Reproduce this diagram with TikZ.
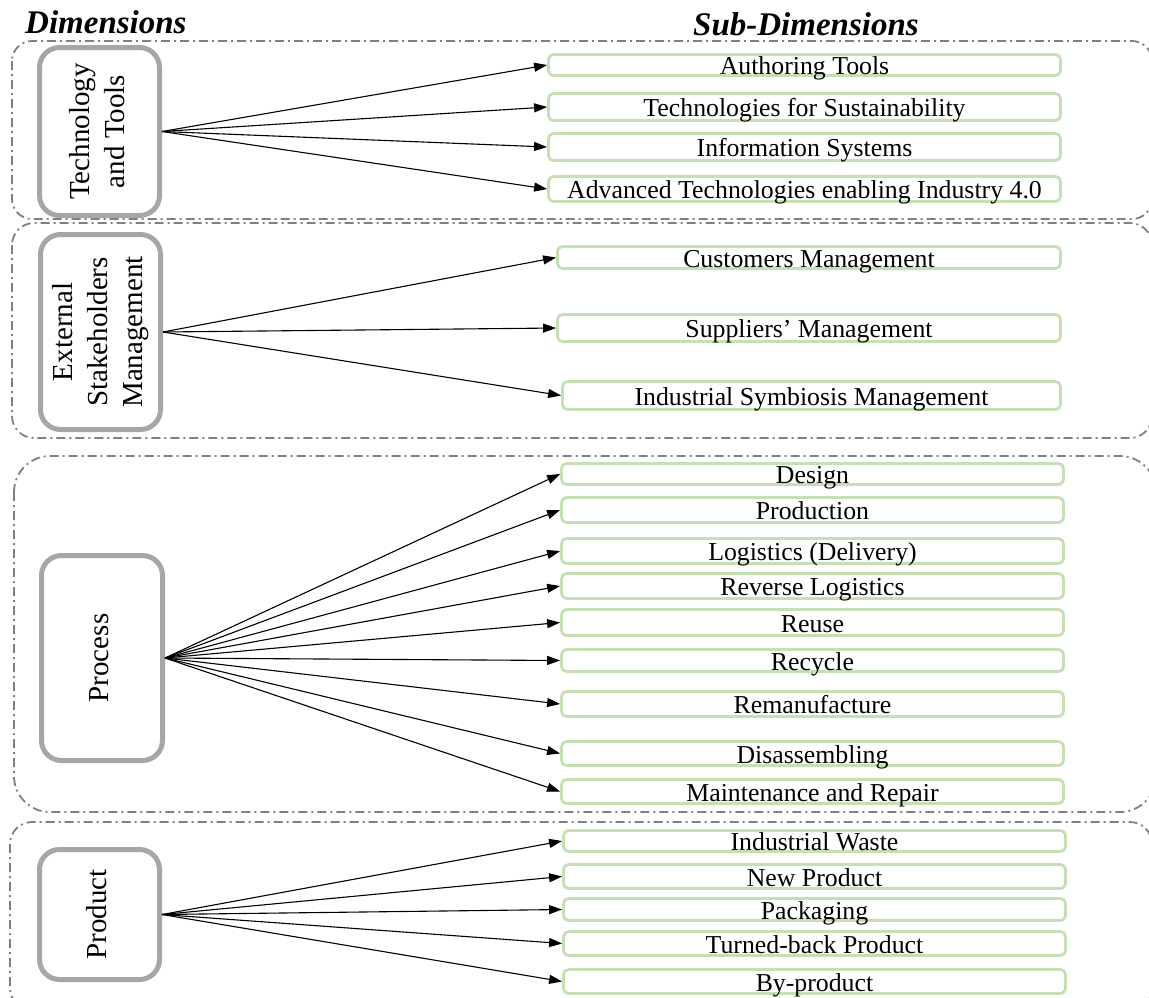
\documentclass[tikz,border=0pt]{standalone}
\usepackage{fontspec}
\setmainfont{Liberation Serif}
\usetikzlibrary{arrows.meta}
\definecolor{subgreen}{RGB}{197,224,180}
\definecolor{dimgray}{RGB}{166,166,166}
\definecolor{grpgray}{RGB}{128,128,128}
\begin{document}
\begin{tikzpicture}[x=1pt,y=-1pt,
 grp/.style={draw=grpgray, line width=1.8pt, dash pattern=on 9pt off 4pt on 2pt off 4pt},
 dimbox/.style={draw=dimgray, line width=5pt, rounded corners=20pt, align=center, inner sep=0pt},
 subbox/.style={draw=subgreen, line width=2.8pt, rounded corners=5pt, inner sep=0pt, font=\fontsize{25.8}{30}\selectfont, text height=19pt, text depth=0pt},
 conn/.style={-{Triangle[length=13pt,width=9pt]}, line width=1.1pt},
 hdr/.style={font=\fontsize{33}{38}\selectfont\bfseries\itshape, anchor=base west, inner sep=0pt}]
\useasboundingbox (0,0) rectangle (1149,997);
\fill[white] (0,0) rectangle (1149,997);
% groups
\draw[grp, rounded corners=20pt] (12,41) rectangle (1152,219);
\draw[grp, rounded corners=22pt] (12,223) rectangle (1152,438);
\draw[grp, rounded corners=36pt] (14,456) rectangle (1156,812);
\draw[grp, rounded corners=22pt] (10,822) rectangle (1152,1010);
% headers
\node[hdr] (h1) at (25,33) {Dimensions};
\node[hdr] (h2) at (693,35) {Sub-Dimensions};
% dimension boxes
\node[dimbox, minimum width=120pt, minimum height=168pt] (dt) at (99.5,131.5)
 {\rotatebox{90}{\fontsize{29}{35}\selectfont\begin{tabular}{@{}c@{}}Technology\\and Tools\end{tabular}}};
\node[dimbox, minimum width=120pt, minimum height=195pt] (de) at (100.5,332)
 {\rotatebox{90}{\fontsize{29}{35}\selectfont\begin{tabular}{@{}c@{}}External\\Stakeholders\\Management\end{tabular}}};
\node[dimbox, minimum width=121pt, minimum height=205pt] (dp) at (102,658)
 {\rotatebox{90}{\fontsize{29}{35}\selectfont\begin{tabular}{@{}c@{}}Process\end{tabular}}};
\node[dimbox, minimum width=120pt, minimum height=130pt] (dd) at (99.5,914.5)
 {\rotatebox{90}{\fontsize{29}{35}\selectfont\begin{tabular}{@{}c@{}}Product\end{tabular}}};
% group 1 sub-dimensions
\node[subbox, minimum width=512pt, minimum height=21pt] (t1) at (804.5,65) {Authoring Tools};
\node[subbox, minimum width=512pt, minimum height=27pt] (t2) at (804.5,107) {Technologies for Sustainability};
\node[subbox, minimum width=512pt, minimum height=27pt] (t3) at (804.5,147) {Information Systems};
\node[subbox, minimum width=512pt, minimum height=25pt] (t4) at (804.5,189) {Advanced Technologies enabling Industry 4.0};
% group 2
\node[subbox, minimum width=503pt, minimum height=22pt] (e1) at (809,257.5) {Customers Management};
\node[subbox, minimum width=503pt, minimum height=27pt] (e2) at (809,328) {Suppliers’ Management};
\node[subbox, minimum width=498pt, minimum height=28pt] (e3) at (811.5,395.5) {Industrial Symbiosis Management};
% group 3
\node[subbox, minimum width=502pt, minimum height=21pt] (p1) at (812.5,474) {Design};
\node[subbox, minimum width=502pt, minimum height=25pt] (p2) at (812.5,510) {Production};
\node[subbox, minimum width=502pt, minimum height=25pt] (p3) at (812.5,551) {Logistics (Delivery)};
\node[subbox, minimum width=502pt, minimum height=25pt] (p4) at (812.5,586) {Reverse Logistics};
\node[subbox, minimum width=502pt, minimum height=26pt] (p5) at (812.5,622.5) {Reuse};
\node[subbox, minimum width=502pt, minimum height=22pt] (p6) at (812.5,660.5) {Recycle};
\node[subbox, minimum width=502pt, minimum height=25pt] (p7) at (812.5,704) {Remanufacture};
\node[subbox, minimum width=502pt, minimum height=24pt] (p8) at (812.5,753.5) {Disassembling};
\node[subbox, minimum width=502pt, minimum height=24pt] (p9) at (812.5,791.5) {Maintenance and Repair};
% group 4
\node[subbox, minimum width=502pt, minimum height=21pt] (d1) at (814.5,841) {Industrial Waste};
\node[subbox, minimum width=502pt, minimum height=24pt] (d2) at (814.5,876.5) {New Product};
\node[subbox, minimum width=502pt, minimum height=22pt] (d3) at (814.5,909.5) {Packaging};
\node[subbox, minimum width=502pt, minimum height=24pt] (d4) at (814.5,943.5) {Turned-back Product};
\node[subbox, minimum width=502pt, minimum height=24pt] (d5) at (814.5,981.5) {By-product};
% connectors
\foreach \s in {t1,t2,t3,t4} \draw[conn] (dt.east) -- (\s.west);
\foreach \s in {e1,e2,e3} \draw[conn] (de.east) -- (\s.west);
\foreach \s in {p1,p2,p3,p4,p5,p6,p7,p8,p9} \draw[conn] (dp.east) -- (\s.west);
\foreach \s in {d1,d2,d3,d4,d5} \draw[conn] (dd.east) -- (\s.west);
\end{tikzpicture}
\end{document}
